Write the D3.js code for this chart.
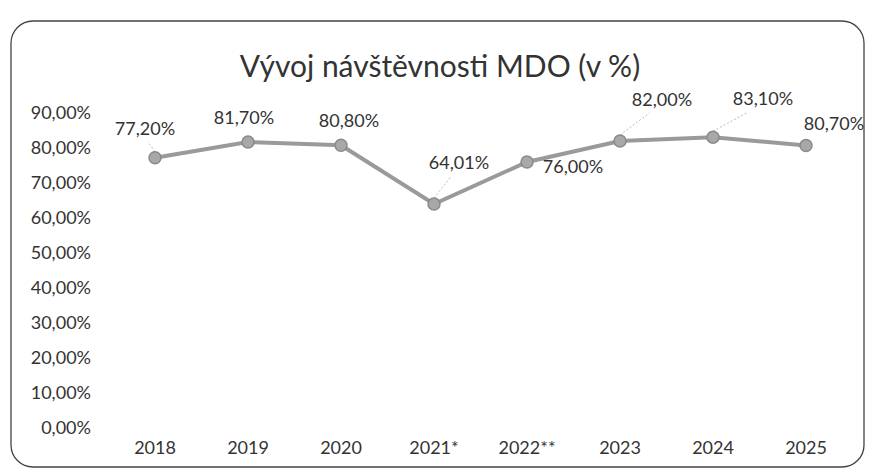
<!DOCTYPE html>
<html>
<head>
<meta charset="utf-8">
<script src="https://cdn.jsdelivr.net/npm/d3@7"></script>
<style>
  body { margin: 0; background: #fff; }
  text { font-family: Lato, "Open Sans", sans-serif; fill: #333; }
</style>
</head>
<body>
<svg id="chart"></svg>
<script>
const title = "Vývoj návštěvnosti MDO (v %)";
const years = ["2018", "2019", "2020", "2021*", "2022**", "2023", "2024", "2025"];
const values = [77.2, 81.7, 80.8, 64.01, 76.0, 82.0, 83.1, 80.7];
const yTicks = [0, 10, 20, 30, 40, 50, 60, 70, 80, 90];
// label offsets from the point (dx, dy), leader shown when far away
const labelOffsets = [[-10, -30], [-4, -25], [8, -25], [25, -42], [46, 4], [42, -42], [50, -39], [28, -23]];
const hasLeader = [true, false, false, true, false, true, true, false];

const w = 870;
const h = 474;

const svg = d3.select("#chart")
  .attr("width", w)
  .attr("height", h);

svg.append("rect")
  .attr("x", 11).attr("y", 21)
  .attr("width", 853).attr("height", 446)
  .attr("rx", 22)
  .attr("fill", "#fff")
  .attr("stroke", "#444")
  .attr("stroke-width", 1.3);

svg.append("text")
  .attr("x", 440).attr("y", 77)
  .attr("text-anchor", "middle")
  .style("font-size", "30px")
  .text(title);

const x = d3.scaleBand()
  .domain(years)
  .range([108.5, 852.5]);

const y = d3.scaleLinear()
  .domain([0, 90])
  .range([428, 113]);

const fmt = (v) => v.toFixed(2).replace(".", ",") + "%";

const yAxis = d3.axisLeft(y)
  .tickValues(yTicks)
  .tickSize(0)
  .tickPadding(0)
  .tickFormat(fmt);

const gy = svg.append("g")
  .attr("transform", "translate(91,0)")
  .call(yAxis);
gy.select(".domain").remove();
gy.selectAll("text").style("font-size", "18px").attr("fill", "#333");

const xAxis = d3.axisBottom(x)
  .tickSize(0)
  .tickPadding(0);

const gx = svg.append("g")
  .attr("transform", "translate(0,441)")
  .call(xAxis);
gx.select(".domain").remove();
gx.selectAll("text").style("font-size", "18px").attr("fill", "#333");

const cx = (i) => x(years[i]) + x.bandwidth() / 2;

const line = d3.line()
  .x((d, i) => cx(i))
  .y((d) => y(d));

svg.append("path")
  .datum(values)
  .attr("d", line)
  .attr("fill", "none")
  .attr("stroke", "#9a9a9a")
  .attr("stroke-width", 4);

const leaders = values.map((d, i) => ({ v: d, i: i })).filter((d) => hasLeader[d.i]);

svg.selectAll("line.leader")
  .data(leaders)
  .enter()
  .append("line")
  .attr("class", "leader")
  .attr("x1", (d) => cx(d.i))
  .attr("y1", (d) => y(d.v) - 6)
  .attr("x2", (d) => cx(d.i) + labelOffsets[d.i][0] * 0.7)
  .attr("y2", (d) => y(d.v) + labelOffsets[d.i][1] + 14)
  .attr("stroke", "#bbb")
  .attr("stroke-width", 1)
  .attr("stroke-dasharray", "2,2");

svg.selectAll("circle")
  .data(values)
  .enter()
  .append("circle")
  .attr("cx", (d, i) => cx(i))
  .attr("cy", (d) => y(d))
  .attr("r", 6)
  .attr("fill", "#a8a8a8")
  .attr("stroke", "#8a8a8a")
  .attr("stroke-width", 1.5);

svg.selectAll("text.lbl")
  .data(values)
  .enter()
  .append("text")
  .attr("class", "lbl")
  .attr("x", (d, i) => cx(i) + labelOffsets[i][0])
  .attr("y", (d, i) => y(d) + labelOffsets[i][1])
  .attr("text-anchor", "middle")
  .attr("dominant-baseline", "central")
  .style("font-size", "18px")
  .text(fmt);
</script>
</body>
</html>
